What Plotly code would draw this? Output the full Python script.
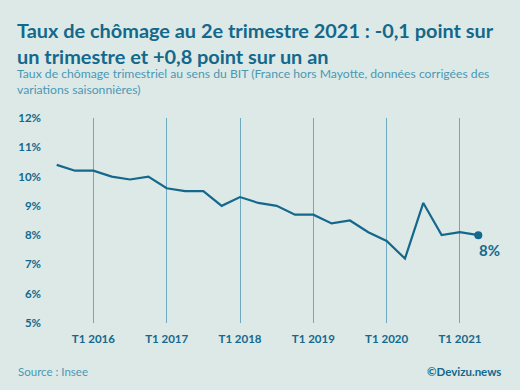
import plotly.graph_objects as go

quarters = ["T3 2015", "T4 2015", "T1 2016", "T2 2016", "T3 2016", "T4 2016",
            "T1 2017", "T2 2017", "T3 2017", "T4 2017", "T1 2018", "T2 2018",
            "T3 2018", "T4 2018", "T1 2019", "T2 2019", "T3 2019", "T4 2019",
            "T1 2020", "T2 2020", "T3 2020", "T4 2020", "T1 2021", "T2 2021"]
rates = [10.4, 10.2, 10.2, 10.0, 9.9, 10.0,
         9.6, 9.5, 9.5, 9.0, 9.3, 9.1,
         9.0, 8.7, 8.7, 8.4, 8.5, 8.1,
         7.8, 7.2, 9.1, 8.0, 8.1, 8.0]
tick_labels = ["T1 2016", "T1 2017", "T1 2018", "T1 2019", "T1 2020", "T1 2021"]
y_ticks = [5, 6, 7, 8, 9, 10, 11, 12]

BG = "#dde9e7"
DARK = "#13688c"
GRID = "#6fa9bf"
LIGHT = "#4a98b4"
FONT = "Lato"

idx = list(range(len(quarters)))
tick_idx = [quarters.index(t) for t in tick_labels]

fig = go.Figure()
fig.add_trace(go.Scatter(x=idx, y=rates, mode="lines",
                         line=dict(color=DARK, width=2.2), hoverinfo="skip"))
fig.add_trace(go.Scatter(x=[idx[-1]], y=[rates[-1]], mode="markers",
                         marker=dict(color=DARK, size=8),
                         hoverinfo="skip", cliponaxis=False))
fig.add_annotation(x=idx[-1], y=rates[-1], xshift=11, yshift=-15,
                   text=f"<b>{rates[-1]:.0f}%</b>", showarrow=False,
                   font=dict(family=FONT, size=15, color=DARK))

L, R = 50, 20
W = 520
plot_w = W - L - R
px_per_q = 18.33
x0 = (L - 56.7) / px_per_q
x1 = x0 + plot_w / px_per_q

fig.update_layout(
    width=520, height=390,
    paper_bgcolor=BG, plot_bgcolor=BG,
    margin=dict(l=L, r=R, t=118, b=67),
    showlegend=False,
    font=dict(family=FONT, color=DARK),
    xaxis=dict(range=[x0, x1], tickmode="array", tickvals=tick_idx,
               ticktext=[f"<b>{t}</b>" for t in tick_labels],
               showgrid=True, gridcolor=GRID, gridwidth=1,
               zeroline=False, showline=False, ticks="",
               tickfont=dict(family=FONT, size=11.5, color=DARK),
               ticklabelstandoff=7),
    yaxis=dict(range=[5, 12], tickmode="array", tickvals=y_ticks,
               ticktext=[f"<b>{v}%</b>" for v in y_ticks], showgrid=False,
               zeroline=False, showline=False, ticks="",
               tickfont=dict(family=FONT, size=11.5, color=DARK),
               ticklabelstandoff=8),
)

fig.add_annotation(xref="paper", yref="paper", x=-(L - 15) / plot_w, y=1, yshift=118 - 16,
                   xanchor="left", yanchor="top", align="left", showarrow=False,
                   text="<b>Taux de chômage au 2e trimestre 2021 : -0,1 point sur<br>un trimestre et +0,8 point sur un an</b>",
                   font=dict(family=FONT, size=19.9, color=DARK))
fig.add_annotation(xref="paper", yref="paper", x=-(L - 15) / plot_w, y=1, yshift=118 - 64,
                   xanchor="left", yanchor="top", align="left", showarrow=False,
                   text="Taux de chômage trimestriel au sens du BIT (France hors Mayotte, données corrigées des<br>variations saisonnières)",
                   font=dict(family=FONT, size=12.2, color=LIGHT))
fig.add_annotation(xref="paper", yref="paper", x=-(L - 16) / plot_w, y=0, yshift=-40,
                   xanchor="left", yanchor="top", showarrow=False,
                   text="Source : Insee",
                   font=dict(family=FONT, size=11.5, color=LIGHT))
fig.add_annotation(xref="paper", yref="paper", x=1 + 3 / plot_w, y=0, yshift=-40,
                   xanchor="right", yanchor="top", showarrow=False,
                   text="<b>©Devizu.news</b>",
                   font=dict(family=FONT, size=11.5, color=DARK))

fig.write_html("out.html", config={"displayModeBar": False},
               post_script="document.body.style.margin='0';document.body.style.background='%s';" % BG)
